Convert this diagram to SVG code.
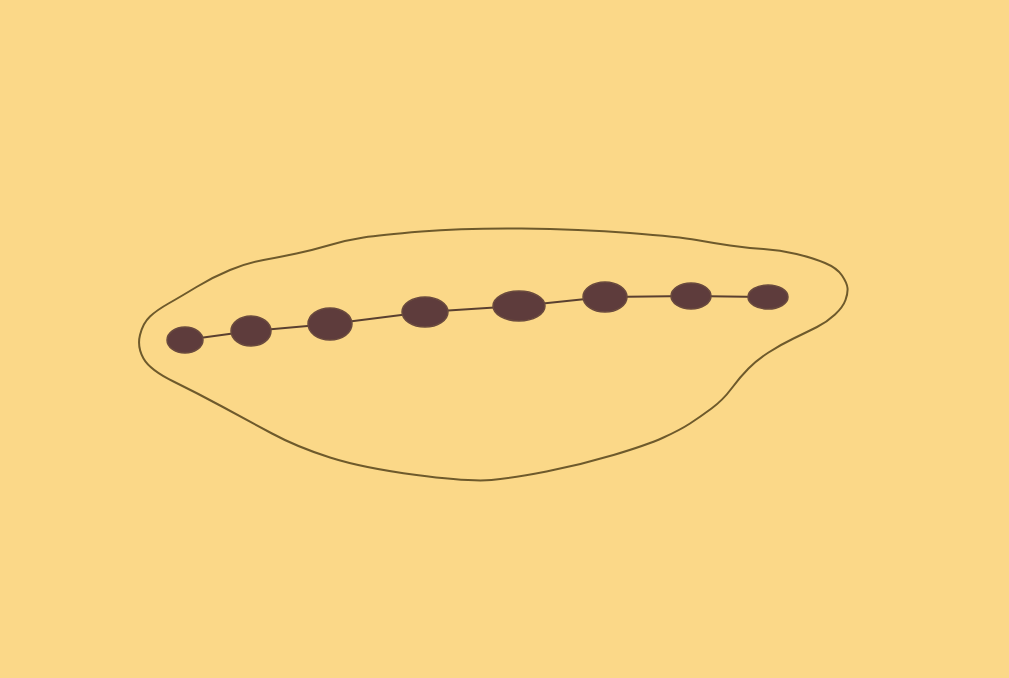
<svg xmlns="http://www.w3.org/2000/svg" width="1009" height="678" viewBox="0 0 1009 678">
<defs>
<style>
.outline{fill:none;stroke:#6e5a2c;stroke-width:2;stroke-linecap:round;stroke-linejoin:round}
.link{fill:none;stroke:#5a4030;stroke-width:2}
.dot{fill:#5e3c3c;stroke:#6a4a3e;stroke-width:1.5}
</style>
</defs>
<rect width="1009" height="678" fill="#fbd888"/>
<g id="outline">
<path class="outline" d="M143.5,358.5 Q137,347 140,335 Q143,323 150,316.5 Q157,310 168.5,303.5 Q180,297 196.5,287 Q213,277 230,270 Q247,263 263.5,260 Q280,257 296.5,253.5 Q313,250 330,245 Q347,240 363.5,237.5 Q380,235 421.5,231.5 Q463,228 521.5,228.5 Q580,229 630,233 Q680,237 696.5,240 Q713,243 730,245.5 Q747,248 763.5,249 Q780,250 796.5,254 Q813,258 825,263 Q837,268 842,275.5 Q847,283 847.5,288 Q848,293 845.5,300 Q843,307 835,314.5 Q827,322 817,327 Q807,332 793.5,338.5 Q780,345 768.5,352.5 Q757,360 748.5,368.5 Q740,377 731.5,388.5 Q723,400 711.5,408.5 Q700,417 690,423.5 Q680,430 663.5,437.5 Q647,445 613.5,455 Q580,465 546.5,471.5 Q513,478 491.5,480 Q470,482 416.5,475 Q363,468 330,457.5 Q297,447 272,433.5 Q247,420 222,406.5 Q197,393 173.5,381.5 Q150,370 143.5,358.5 Z"/>
</g>
<g id="connectors">
<polyline class="link" points="185,340 251,331 330,324 425,312 519,306 605,297 691,296 768,297"/>
</g>
<g id="node1"><ellipse class="dot" cx="185" cy="340" rx="18" ry="13"/></g>
<g id="node2"><ellipse class="dot" cx="251" cy="331" rx="20" ry="15"/></g>
<g id="node3"><ellipse class="dot" cx="330" cy="324" rx="22" ry="16"/></g>
<g id="node4"><ellipse class="dot" cx="425" cy="312" rx="23" ry="15"/></g>
<g id="node5"><ellipse class="dot" cx="519" cy="306" rx="26" ry="15"/></g>
<g id="node6"><ellipse class="dot" cx="605" cy="297" rx="22" ry="15"/></g>
<g id="node7"><ellipse class="dot" cx="691" cy="296" rx="20" ry="13"/></g>
<g id="node8"><ellipse class="dot" cx="768" cy="297" rx="20" ry="12"/></g>
</svg>
